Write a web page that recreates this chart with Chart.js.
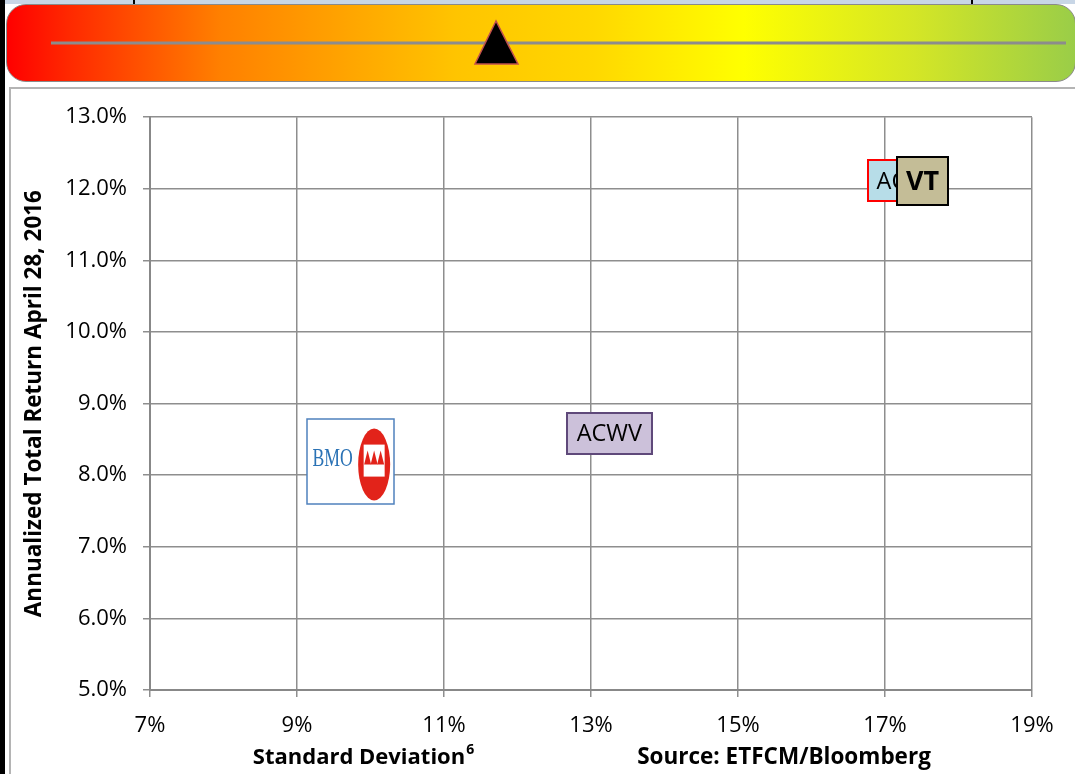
<!DOCTYPE html>
<html lang="en">
<head>
  <meta charset="UTF-8">
  <title>Risk / Return</title>
  <script src="https://cdn.jsdelivr.net/npm/chart.js"></script>
  <style>
    html, body { margin: 0; padding: 0; background: #fff; }
    body { width: 1075px; height: 774px; position: relative; overflow: hidden; font-family: "Open Sans", sans-serif; }
    #leftbar { position: absolute; left: 0; top: 0; width: 5px; height: 774px; background: #000; }
    #topstrip { position: absolute; left: 5px; top: 0; width: 1070px; height: 4px; background: #c8d6e6; }
    .tick { position: absolute; top: 0; width: 2px; height: 5px; background: #000; }
    #meter { position: absolute; left: 6px; top: 4px; width: 1070px; height: 78px; border-radius: 20px;
      border: 1px solid #8a8a8a; box-sizing: border-box;
      background: linear-gradient(to right, #ff0000 0%, #ff2a00 6%, #ff8000 20%, #ffc400 42%, #ffd800 55%, #ffff00 69%, #d4e626 85%, #9acd48 100%); }
    #meter svg { position: absolute; left: -6px; top: -4px; }
    #chartbox { position: absolute; left: 9px; top: 87px; width: 1070px; height: 700px; border-top: 2px solid #b4b4b4; border-left: 2px solid #b4b4b4; }
    #chart { position: absolute; left: 5px; top: 88px; }
  </style>
</head>
<body>
  <div id="leftbar"></div>
  <div id="topstrip"></div>
  <div class="tick" style="left:133px"></div>
  <div class="tick" style="left:971px"></div>
  <div id="meter">
    <svg width="1075" height="90">
      <line x1="50" y1="42" x2="1065" y2="42" stroke="#8c8c8c" stroke-width="3"/>
      <polygon points="495,20 474,63 517,63" fill="#000" stroke="#c0504d" stroke-width="1.5"/>
    </svg>
  </div>
  <div id="chartbox"></div>
  <canvas id="chart" width="1070" height="686"></canvas>

  <script>
    // funds plotted: standard deviation (%) vs annualized total return (%)
    const funds = ["BMO", "ACWV", "ACWI", "VT"];
    const stdDev = [9.73, 13.25, 17.28, 17.51];
    const totalReturn = [8.19, 8.58, 12.11, 12.11];

    const xTicks = [7, 9, 11, 13, 15, 17, 19];
    const yTicks = [5, 6, 7, 8, 9, 10, 11, 12, 13];

    const yTitle = "Annualized Total Return April 28, 2016";
    const xTitle = "Standard Deviation";
    const xTitleNote = "6";
    const sourceText = "Source: ETFCM/Bloomberg";

    // how each label box looks
    const boxStyle = {
      BMO:  { w: 87, h: 85, fill: "#ffffff", stroke: "#4f81bd", lw: 1.5 },
      ACWV: { w: 85, h: 41, fill: "#ccc1da", stroke: "#5f497a", lw: 2, font: "23.5px 'Open Sans'" },
      ACWI: { w: 75, h: 41, fill: "#b7dde8", stroke: "#ff0000", lw: 2, font: "23.5px 'Open Sans'" },
      VT:   { w: 51, h: 48, fill: "#c4bd97", stroke: "#000000", lw: 2, font: "bold 27px 'Open Sans'" }
    };

    function drawBmoLogo(ctx, cx, cy) {
      ctx.save();
      ctx.translate(cx - 18, cy - 3);
      ctx.scale(0.68, 1);
      ctx.fillStyle = "#2a72b5";
      ctx.font = "26px 'Liberation Serif'";
      ctx.textAlign = "center";
      ctx.textBaseline = "middle";
      ctx.fillText("BMO", 0, 1);
      ctx.restore();

      ctx.fillStyle = "#e2231a";
      ctx.beginPath();
      ctx.ellipse(cx + 23.5, cy + 3, 16, 36, 0, 0, Math.PI * 2);
      ctx.fill();

      ctx.fillStyle = "#ffffff";
      ctx.fillRect(cx + 13, cy - 17, 21, 32);
      ctx.fillStyle = "#e2231a";
      [17, 23.5, 30].forEach(dx => {
        ctx.beginPath();
        ctx.moveTo(cx + dx - 3.5, cy + 3);
        ctx.lineTo(cx + dx, cy - 11);
        ctx.lineTo(cx + dx + 3.5, cy + 3);
        ctx.closePath();
        ctx.fill();
      });
    }

    const labelBoxes = {
      id: "labelBoxes",
      afterDatasetsDraw(chart) {
        const ctx = chart.ctx;
        const meta = chart.getDatasetMeta(0);
        meta.data.forEach((pt, i) => {
          const name = funds[i];
          const s = boxStyle[name];
          const x0 = Math.round(pt.x - s.w / 2), y0 = Math.round(pt.y - s.h / 2);
          ctx.save();
          ctx.fillStyle = s.fill;
          ctx.fillRect(x0, y0, s.w, s.h);
          ctx.strokeStyle = s.stroke;
          ctx.lineWidth = s.lw;
          ctx.strokeRect(x0, y0, s.w, s.h);
          if (name === "BMO") {
            drawBmoLogo(ctx, pt.x, pt.y);
          } else {
            ctx.fillStyle = "#000";
            ctx.font = s.font;
            ctx.textAlign = "center";
            ctx.textBaseline = "middle";
            ctx.fillText(name, pt.x, pt.y + 1);
          }
          ctx.restore();
        });
      }
    };

    const bottomTitles = {
      id: "bottomTitles",
      afterDraw(chart) {
        const ctx = chart.ctx;
        ctx.save();
        ctx.fillStyle = "#000";
        ctx.textBaseline = "middle";
        ctx.font = "bold 22px 'Open Sans'";
        const w1 = ctx.measureText(xTitle).width;
        ctx.font = "bold 14px 'Open Sans'";
        const w2 = ctx.measureText(xTitleNote).width;
        let x = 358 - (w1 + w2) / 2;
        ctx.textAlign = "left";
        ctx.font = "bold 22px 'Open Sans'";
        ctx.fillText(xTitle, x, 670);
        ctx.font = "bold 14px 'Open Sans'";
        ctx.fillText(xTitleNote, x + w1 + 1, 662);
        ctx.font = "bold 22.5px 'Open Sans'";
        ctx.textAlign = "center";
        ctx.fillText(sourceText, 779, 670);
        ctx.restore();
      }
    };

    new Chart(document.getElementById("chart"), {
      type: "scatter",
      data: {
        datasets: [{
          label: "Funds",
          data: funds.map((f, i) => ({ x: stdDev[i], y: totalReturn[i] })),
          pointRadius: 0,
          pointHoverRadius: 0
        }]
      },
      options: {
        responsive: false,
        animation: false,
        devicePixelRatio: 1,
        layout: { padding: { left: 10, right: 43, top: 25, bottom: 0 } },
        plugins: { legend: { display: false }, tooltip: { enabled: false } },
        scales: {
          x: {
            type: "linear",
            min: xTicks[0],
            max: xTicks[xTicks.length - 1],
            afterBuildTicks: s => { s.ticks = xTicks.map(v => ({ value: v })); },
            afterFit: s => { s.height = 84; },
            grid: { color: "#8e8e8e", lineWidth: 1.5, tickLength: 7, tickColor: "#8e8e8e" },
            border: { color: "#888", width: 2 },
            ticks: {
              padding: 16,
              color: "#000",
              font: { family: "'Open Sans'", size: 22 },
              maxRotation: 0,
              callback: v => v + "%"
            }
          },
          y: {
            type: "linear",
            min: yTicks[0],
            max: yTicks[yTicks.length - 1],
            afterBuildTicks: s => { s.ticks = yTicks.map(v => ({ value: v })); },
            afterFit: s => { s.width = 135; },
            grid: { color: "#8e8e8e", lineWidth: 1.5, tickLength: 7, tickColor: "#8e8e8e" },
            border: { color: "#888", width: 2 },
            ticks: {
              padding: 16,
              color: "#000",
              font: { family: "'Open Sans'", size: 22 },
              callback: v => v.toFixed(1) + "%"
            },
            title: {
              display: true,
              text: yTitle,
              color: "#000",
              font: { family: "'Open Sans'", size: 22.5, weight: "bold" },
              padding: { top: 6, bottom: 0 }
            }
          }
        }
      },
      plugins: [labelBoxes, bottomTitles]
    });
  </script>
</body>
</html>
